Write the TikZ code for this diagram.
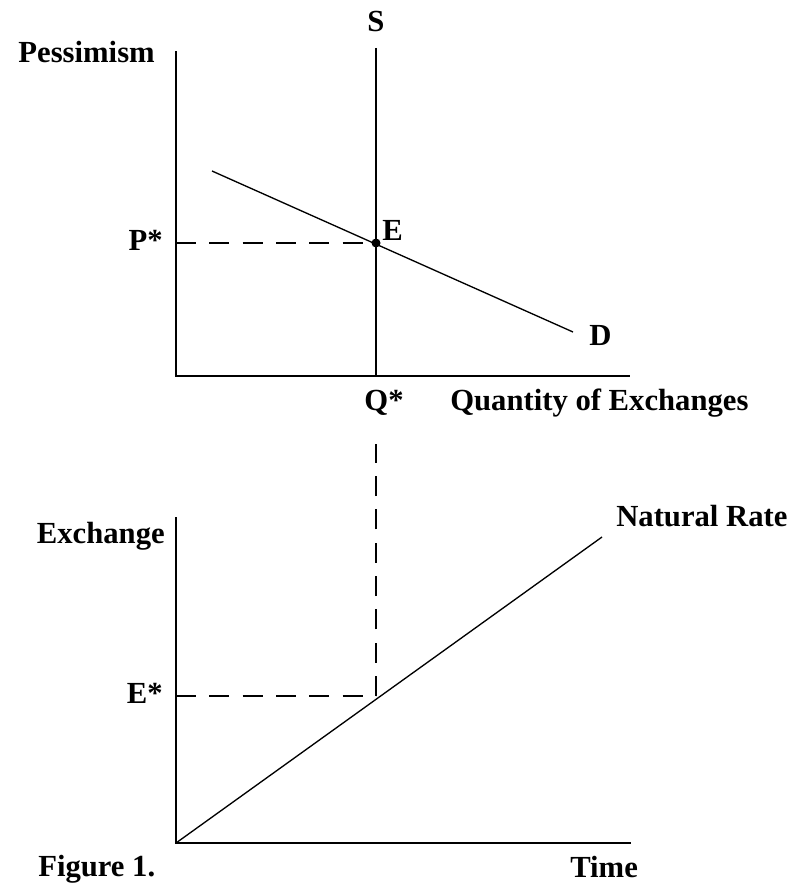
\documentclass[tikz,border=0pt]{standalone}
\usepackage{fontspec}
\setmainfont{Liberation Serif}
\usetikzlibrary{positioning}

\begin{document}
\begin{tikzpicture}[
    x=0.75pt, y=-0.75pt,
    axis/.style={line width=2.2pt, line cap=rect},
    curve/.style={line width=1pt},
    guide/.style={line width=1.3pt, dash pattern=on 15pt off 10pt},
    lbl/.style={inner sep=0pt, font=\fontsize{23}{27}\selectfont\bfseries}
]
\useasboundingbox (0,0) rectangle (793,884);
% upper panel: pessimism market
\coordinate (o1) at (176,376);
\coordinate (ytop1) at (176,52);
\coordinate (xend1) at (629,376);
\coordinate (stop) at (376,48);
\coordinate (sbot) at (376,376);
\coordinate (eq) at (376,243);
\coordinate (pstar) at (176,243);
\coordinate (dstart) at (212,171);
\coordinate (dend) at (573,332);
\draw[axis] (ytop1) -- (o1) -- (xend1);
\draw[curve] (stop) -- (sbot);
\draw[curve] (dstart) -- (dend);
\draw[guide] (pstar) -- (eq);
\fill (eq) circle (4.5);
\node[lbl, anchor=base] (slbl) at (376,32) {S};
\node[lbl, anchor=base east] (pessimism) at (155,63) {Pessimism};
\node[lbl, anchor=base east] (plbl) at (163,250) {P*};
\node[lbl, anchor=base west] (elbl) at (382,240) {E};
\node[lbl, anchor=base west] (dlbl) at (589,345) {D};
\node[lbl, anchor=base] (qlbl) at (384,410) {Q*};
\node[lbl, anchor=base west] (qty) at (450,410) {Quantity of Exchanges};
% lower panel: exchange over time
\coordinate (o2) at (176,843);
\coordinate (ytop2) at (176,518);
\coordinate (xend2) at (630,843);
\coordinate (estar) at (176,696);
\coordinate (hit) at (376,696);
\coordinate (qdrop) at (376,444);
\coordinate (nend) at (602,537);
\draw[axis] (ytop2) -- (o2) -- (xend2);
\draw[curve] (o2) -- (nend);
\draw[guide] (estar) -- (hit);
\draw[guide] (hit) -- (qdrop);
\node[lbl, anchor=base east] (exch) at (165,543) {Exchange};
\node[lbl, anchor=base east] (elbl2) at (163,703) {E*};
\node[lbl, anchor=base west] (natural) at (616,526) {Natural Rate};
\node[lbl, anchor=base west] (time) at (570,877) {Time};
\node[lbl, anchor=base west] (fig) at (38,876) {Figure 1.};
\end{tikzpicture}
\end{document}
